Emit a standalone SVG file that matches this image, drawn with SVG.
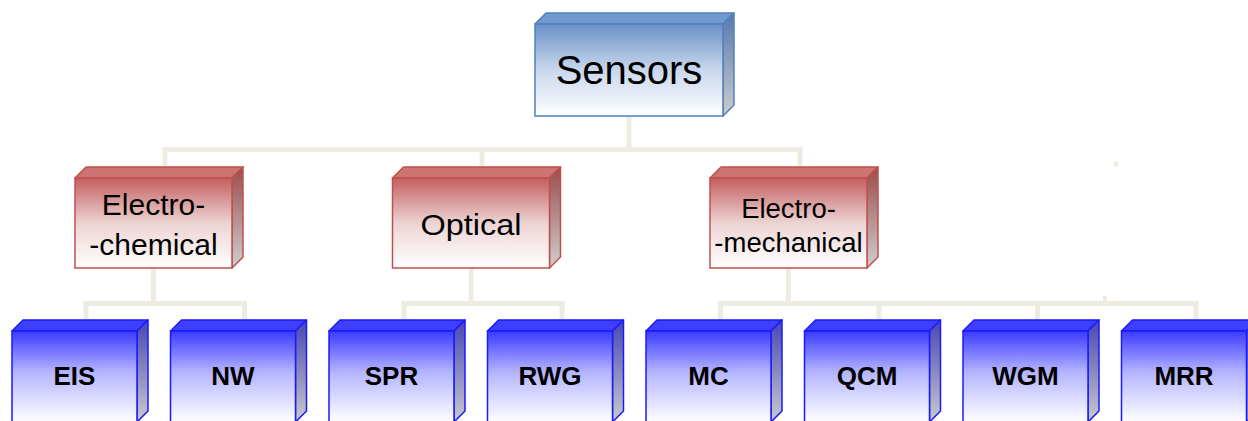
<svg xmlns="http://www.w3.org/2000/svg" width="1248" height="421" viewBox="0 0 1248 421">
<defs>
<linearGradient id="gBlueFront" x1="0" y1="0" x2="0" y2="1">
<stop offset="0" stop-color="#3a3aff"/>
<stop offset="0.45" stop-color="#b4b4ff"/>
<stop offset="1" stop-color="#ffffff"/>
</linearGradient>
<linearGradient id="gBlueSide" x1="0" y1="0" x2="0" y2="1">
<stop offset="0" stop-color="#4646b4"/>
<stop offset="1" stop-color="#cbcbcb"/>
</linearGradient>
<linearGradient id="gRedFront" x1="0" y1="0" x2="0" y2="1">
<stop offset="0" stop-color="#c45e5e"/>
<stop offset="0.5" stop-color="#edd3d3"/>
<stop offset="1" stop-color="#ffffff"/>
</linearGradient>
<linearGradient id="gRedSide" x1="0" y1="0" x2="0" y2="1">
<stop offset="0" stop-color="#9a4c4c"/>
<stop offset="1" stop-color="#cfcfcf"/>
</linearGradient>
<linearGradient id="gSenFront" x1="0" y1="0" x2="0" y2="1">
<stop offset="0" stop-color="#6990c8"/>
<stop offset="0.5" stop-color="#c9d7ec"/>
<stop offset="1" stop-color="#ffffff"/>
</linearGradient>
<linearGradient id="gSenSide" x1="0" y1="0" x2="0" y2="1">
<stop offset="0" stop-color="#5878ad"/>
<stop offset="1" stop-color="#cdcdcd"/>
</linearGradient>
</defs>
<style>
.conn{stroke:#eeece1;stroke-width:5;fill:none;stroke-linecap:square}
.blue .front{fill:url(#gBlueFront);stroke:#1a1aff;stroke-width:1.5}
.blue .top{fill:#3f3fff;stroke:#1a1aff;stroke-width:1.5;stroke-linejoin:round}
.blue .side{fill:url(#gBlueSide);stroke:#1a1aff;stroke-width:1.5;stroke-linejoin:round}
.red .front{fill:url(#gRedFront);stroke:#c0504d;stroke-width:1.5}
.red .top{fill:#cd7473;stroke:#c0504d;stroke-width:1.5;stroke-linejoin:round}
.red .side{fill:url(#gRedSide);stroke:#c0504d;stroke-width:1.5;stroke-linejoin:round}
.sen .front{fill:url(#gSenFront);stroke:#4f81bd;stroke-width:1.5}
.sen .top{fill:#7199d0;stroke:#4f81bd;stroke-width:1.5;stroke-linejoin:round}
.sen .side{fill:url(#gSenSide);stroke:#4f81bd;stroke-width:1.5;stroke-linejoin:round}
text{font-family:"Liberation Sans",Arial,sans-serif;fill:#000;text-anchor:middle}
.bl{font-weight:bold;font-size:26px}
.rl{font-size:30px}
.ml{font-size:27.5px}
</style>

<g id="connectors">
<line class="conn" x1="629" y1="116" x2="629" y2="149.5"/>
<line class="conn" x1="165" y1="149.5" x2="800" y2="149.5"/>
<line class="conn" x1="165" y1="149.5" x2="165" y2="175"/>
<line class="conn" x1="482" y1="149.5" x2="482" y2="175"/>
<line class="conn" x1="800" y1="149.5" x2="800" y2="175"/>

<line class="conn" x1="153.5" y1="268" x2="153.5" y2="303.5"/>
<line class="conn" x1="86" y1="303.5" x2="244.5" y2="303.5"/>
<line class="conn" x1="86" y1="303.5" x2="86" y2="328"/>
<line class="conn" x1="244.5" y1="303.5" x2="244.5" y2="328"/>

<line class="conn" x1="471" y1="268" x2="471" y2="303.5"/>
<line class="conn" x1="404" y1="303.5" x2="562" y2="303.5"/>
<line class="conn" x1="404" y1="303.5" x2="404" y2="328"/>
<line class="conn" x1="562" y1="303.5" x2="562" y2="328"/>

<line class="conn" x1="788.5" y1="268" x2="788.5" y2="303.5"/>
<line class="conn" x1="720.5" y1="303.5" x2="1196" y2="303.5"/>
<line class="conn" x1="720.5" y1="303.5" x2="720.5" y2="328"/>
<line class="conn" x1="879" y1="303.5" x2="879" y2="328"/>
<line class="conn" x1="1037.5" y1="303.5" x2="1037.5" y2="328"/>
<line class="conn" x1="1196" y1="303.5" x2="1196" y2="328"/>
<rect x="1103" y="296" width="4" height="6" fill="#eeece1"/>
<rect x="1114" y="161.5" width="4" height="5" fill="#eeece1"/>
</g>

<g id="node-sensors" class="sen">
<polygon class="top" points="535,24 546,13 734,13 723,24"/>
<polygon class="side" points="723,24 734,13 734,105 723,116"/>
<rect class="front" x="535" y="24" width="188" height="92"/>
<text x="629" y="84" font-size="40">Sensors</text>
</g>

<g id="node-electrochemical" class="red">
<polygon class="top" points="75,178 86,167 243,167 232,178"/>
<polygon class="side" points="232,178 243,167 243,257 232,268"/>
<rect class="front" x="75" y="178" width="157" height="90"/>
<text class="rl" x="153.5" y="215">Electro-</text>
<text class="rl" x="153.5" y="255">-chemical</text>
</g>

<g id="node-optical" class="red">
<polygon class="top" points="392.5,178 403.5,167 560.5,167 549.5,178"/>
<polygon class="side" points="549.5,178 560.5,167 560.5,257 549.5,268"/>
<rect class="front" x="392.5" y="178" width="157" height="90"/>
<text class="rl" x="471" y="235" textLength="101" lengthAdjust="spacingAndGlyphs">Optical</text>
</g>

<g id="node-electromechanical" class="red">
<polygon class="top" points="710,178 721,167 878,167 867,178"/>
<polygon class="side" points="867,178 878,167 878,257 867,268"/>
<rect class="front" x="710" y="178" width="157" height="90"/>
<text class="ml" x="788.5" y="218">Electro-</text>
<text class="ml" x="788.5" y="252">-mechanical</text>
</g>

<g id="node-eis" class="blue">
<polygon class="top" points="12,331 23,320 148,320 137,331"/>
<polygon class="side" points="137,331 148,320 148,411 137,422"/>
<rect class="front" x="12" y="331" width="125" height="91"/>
<text class="bl" x="74.5" y="385">EIS</text>
</g>

<g id="node-nw" class="blue">
<polygon class="top" points="170.5,331 181.5,320 306.5,320 295.5,331"/>
<polygon class="side" points="295.5,331 306.5,320 306.5,411 295.5,422"/>
<rect class="front" x="170.5" y="331" width="125" height="91"/>
<text class="bl" x="233" y="385">NW</text>
</g>

<g id="node-spr" class="blue">
<polygon class="top" points="329,331 340,320 465,320 454,331"/>
<polygon class="side" points="454,331 465,320 465,411 454,422"/>
<rect class="front" x="329" y="331" width="125" height="91"/>
<text class="bl" x="391.5" y="385">SPR</text>
</g>

<g id="node-rwg" class="blue">
<polygon class="top" points="487.5,331 498.5,320 623.5,320 612.5,331"/>
<polygon class="side" points="612.5,331 623.5,320 623.5,411 612.5,422"/>
<rect class="front" x="487.5" y="331" width="125" height="91"/>
<text class="bl" x="550" y="385">RWG</text>
</g>

<g id="node-mc" class="blue">
<polygon class="top" points="646,331 657,320 782,320 771,331"/>
<polygon class="side" points="771,331 782,320 782,411 771,422"/>
<rect class="front" x="646" y="331" width="125" height="91"/>
<text class="bl" x="708.5" y="385">MC</text>
</g>

<g id="node-qcm" class="blue">
<polygon class="top" points="804.5,331 815.5,320 940.5,320 929.5,331"/>
<polygon class="side" points="929.5,331 940.5,320 940.5,411 929.5,422"/>
<rect class="front" x="804.5" y="331" width="125" height="91"/>
<text class="bl" x="867" y="385">QCM</text>
</g>

<g id="node-wgm" class="blue">
<polygon class="top" points="963,331 974,320 1099,320 1088,331"/>
<polygon class="side" points="1088,331 1099,320 1099,411 1088,422"/>
<rect class="front" x="963" y="331" width="125" height="91"/>
<text class="bl" x="1025.5" y="385">WGM</text>
</g>

<g id="node-mrr" class="blue">
<polygon class="top" points="1121.5,331 1132.5,320 1257.5,320 1246.5,331"/>
<polygon class="side" points="1246.5,331 1257.5,320 1257.5,411 1246.5,422"/>
<rect class="front" x="1121.5" y="331" width="125" height="91"/>
<text class="bl" x="1184" y="385">MRR</text>
</g>
</svg>
